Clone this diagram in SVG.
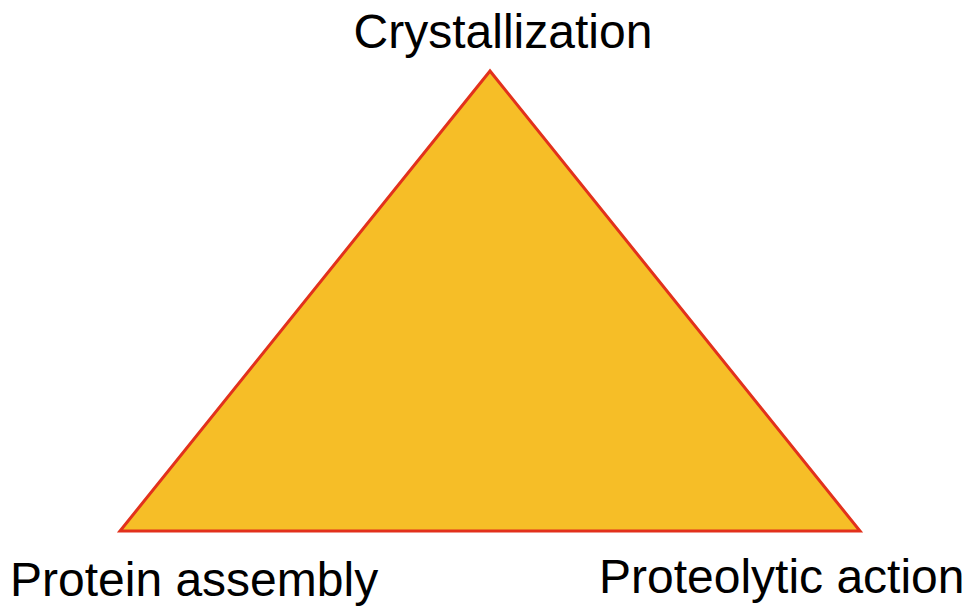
<svg xmlns="http://www.w3.org/2000/svg" width="974" height="612" viewBox="0 0 974 612">
<style>
.lbl{font-family:"Liberation Sans",Arial,sans-serif;font-size:48px;fill:#000}
.tri{fill:#f6be27;stroke:#e2311c;stroke-width:3;stroke-linejoin:miter}
</style>
<rect width="974" height="612" fill="#fff"/>
<g id="triangle">
<polygon class="tri" points="490,71 120,531 860,531"/>
</g>
<g id="connectors"></g>
<g id="crystallization"><text class="lbl" x="503" y="48" text-anchor="middle">Crystallization</text></g>
<g id="protein-assembly"><text class="lbl" x="10" y="596">Protein assembly</text></g>
<g id="proteolytic-action"><text class="lbl" x="599" y="593">Proteolytic action</text></g>
</svg>
